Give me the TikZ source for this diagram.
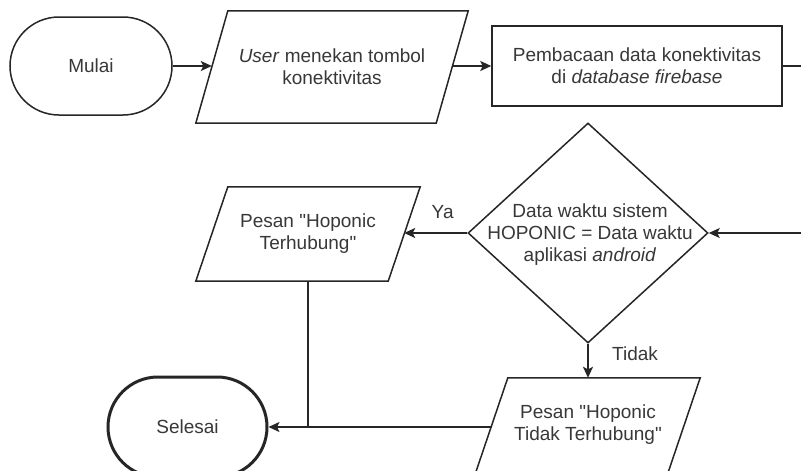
\documentclass[tikz,border=0pt]{standalone}
\usepackage{fontspec}
\setmainfont{Liberation Sans}[Ligatures=TeXOff]
\usetikzlibrary{shapes.geometric,shapes.misc,arrows.meta}
\begin{document}
\begin{tikzpicture}[x=1pt,y=-1pt,
  every node/.style={font=\fontsize{19}{22}\selectfont, text=black!78, align=center},
  line/.style={line width=1.5pt, draw=black!85},
  arr/.style={line, -{Stealth[length=11pt,width=10pt,inset=2.5pt]}},
  term/.style={rounded rectangle, draw=black!85, line width=1.5pt, minimum width=162pt, minimum height=98pt, inner sep=0pt},
  proc/.style={rectangle, line, minimum width=290pt, minimum height=80pt, inner sep=0pt},
  iobox/.style={rectangle, inner sep=0pt},
  decision/.style={diamond, line, minimum width=240pt, minimum height=220pt, inner sep=0pt},
  lbl/.style={inner sep=0pt}
  ]
\useasboundingbox (0,0) rectangle (801,471);
\begin{scope}
\clip (0,0) rectangle (801,471);
\fill[white] (0,0) rectangle (801,471);

% nodes
\node[term] (mulai) at (91,66) {Mulai};
\node[iobox, minimum width=240pt, minimum height=112pt] (p1) at (332,67) {\textit{User} menekan tombol\\konektivitas};
\node[proc] (baca) at (637,66) {Pembacaan data konektivitas\\di \textit{database firebase}};
\node[decision] (dec) at (588,233) {};
\node[lbl] (dectext) at (590,235) {Data waktu sistem\\HOPONIC = Data waktu\\aplikasi \textit{android}};
\node[iobox, minimum width=192pt, minimum height=94pt] (p2) at (308,234) {Pesan "Hoponic\\Terhubung"};
\node[iobox, minimum width=192pt, minimum height=94pt] (p3) at (588,425) {Pesan "Hoponic\\Tidak Terhubung"};
\node[term, line width=3pt, minimum width=159pt, minimum height=100pt] (selesai) at (187.5,427) {Selesai};

% parallelogram outlines
\draw[line] ([xshift=16pt]p1.north west) -- ([xshift=16pt]p1.north east) -- ([xshift=-16pt]p1.south east) -- ([xshift=-16pt]p1.south west) -- cycle;
\draw[line] ([xshift=16pt]p2.north west) -- ([xshift=16pt]p2.north east) -- ([xshift=-16pt]p2.south east) -- ([xshift=-16pt]p2.south west) -- cycle;
\draw[line] ([xshift=16pt]p3.north west) -- ([xshift=16pt]p3.north east) -- ([xshift=-16pt]p3.south east) -- ([xshift=-16pt]p3.south west) -- cycle;

% connectors
\coordinate (turn) at (830,66);
\draw[arr] (mulai.east) -- (mulai.east -| p1.west);
\draw[arr] (p1.east |- baca.west) -- (baca.west);
\draw[arr] (baca.east) -- (turn) |- (dec.east);
\draw[arr] (dec.west) -- (dec.west -| p2.east) node[lbl, pos=0.39, yshift=21pt] {Ya};
\draw[arr] (dec.south) -- (dec.south |- p3.north) node[lbl, pos=0.3, xshift=47pt] {Tidak};
\draw[arr] (p3.west |- selesai.east) -- (selesai.east);
\draw[line] (p2.south) -- (p2.south |- selesai.east);
\end{scope}
\end{tikzpicture}
\end{document}
